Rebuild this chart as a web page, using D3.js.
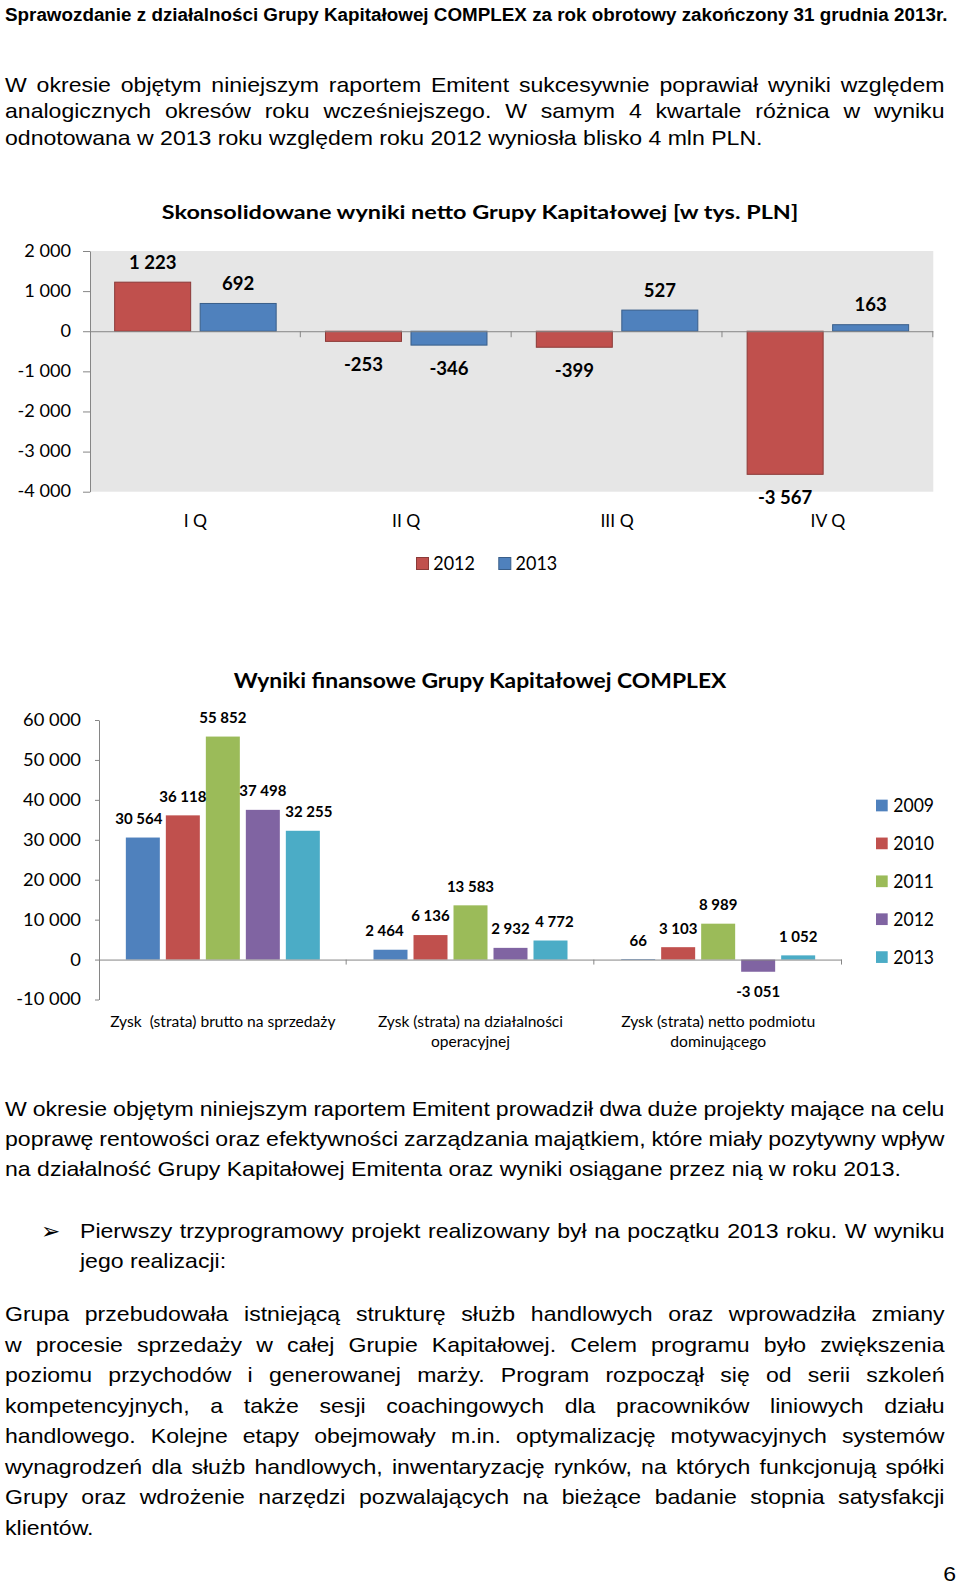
<!DOCTYPE html>
<html><head><meta charset="utf-8">
<script src="https://cdn.jsdelivr.net/npm/d3@7"></script>
<style>html,body{margin:0;padding:0;background:#fff;} svg{display:block}</style>
</head><body>
<svg id="page" width="960" height="1585"></svg>
<script>
// ---------------- DATA ----------------
const quarters = ["I Q", "II Q", "III Q", "IV Q"];
const netYears = ["2012", "2013"];
const net2012 = [1223, -253, -399, -3567];
const net2013 = [692, -346, 527, 163];
const netTicks = [2000, 1000, 0, -1000, -2000, -3000, -4000];

const finCategoryLines = [
  ["Zysk  (strata) brutto na sprzedaży"],
  ["Zysk (strata) na działalności", "operacyjnej"],
  ["Zysk (strata) netto podmiotu", "dominującego"]
];
const finYears = ["2009", "2010", "2011", "2012", "2013"];
const fin2009 = [30564, 2464, 66];
const fin2010 = [36118, 6136, 3103];
const fin2011 = [55852, 13583, 8989];
const fin2012 = [37498, 2932, -3051];
const fin2013 = [32255, 4772, 1052];
const finTicks = [60000, 50000, 40000, 30000, 20000, 10000, 0, -10000];

const netTitle = "Skonsolidowane wyniki netto Grupy Kapitałowej [w tys. PLN]";
const finTitle = "Wyniki finansowe Grupy Kapitałowej COMPLEX";

const headerText = "Sprawozdanie z działalności Grupy Kapitałowej COMPLEX za rok obrotowy zakończony 31 grudnia 2013r.";
const para1 = [
  "W okresie objętym niniejszym raportem Emitent sukcesywnie poprawiał wyniki względem",
  "analogicznych okresów roku wcześniejszego. W samym 4 kwartale różnica w wyniku",
  "odnotowana w 2013 roku względem roku 2012 wyniosła blisko 4 mln PLN."
];
const para2 = [
  "W okresie objętym niniejszym raportem Emitent prowadził dwa duże projekty mające na celu",
  "poprawę rentowości oraz efektywności zarządzania majątkiem, które miały pozytywny wpływ",
  "na działalność Grupy Kapitałowej Emitenta oraz wyniki osiągane przez nią w roku 2013."
];
const bullet1 = [
  "Pierwszy trzyprogramowy projekt realizowany był na początku 2013 roku. W wyniku",
  "jego realizacji:"
];
const para3 = [
  "Grupa przebudowała istniejącą strukturę służb handlowych oraz wprowadziła zmiany",
  "w procesie sprzedaży w całej Grupie Kapitałowej. Celem programu było zwiększenia",
  "poziomu przychodów i generowanej marży. Program rozpoczął się od serii szkoleń",
  "kompetencyjnych, a także sesji coachingowych dla pracowników liniowych działu",
  "handlowego. Kolejne etapy obejmowały m.in. optymalizację motywacyjnych systemów",
  "wynagrodzeń dla służb handlowych, inwentaryzację rynków, na których funkcjonują spółki",
  "Grupy oraz wdrożenie narzędzi pozwalających na bieżące badanie stopnia satysfakcji",
  "klientów."
];
const pageNumber = "6";

// ---------------- STYLE ----------------
const netColors = ["#C0504D", "#4F81BD"];
const finColors = ["#4F81BD", "#C0504D", "#9BBB59", "#8064A2", "#4BACC6"];
const axisColor = "#868686";
const chartFont = "Lato, 'Open Sans', sans-serif";
const bodyFont = "'Liberation Sans', Arial, sans-serif";

const svg = d3.select("#page");
const fmt = d3.formatLocale({decimal: ",", thousands: " ", grouping: [3], currency: ["", ""], minus: "-"}).format(",d");

function stretchText(sel, sx) {
  sel.each(function () {
    const t = d3.select(this);
    const x = +(t.attr("x") || 0), y = +(t.attr("y") || 0);
    t.attr("x", 0).attr("y", 0).attr("transform", `translate(${x},${y}) scale(${sx},1)`);
  });
}
function fitWidth(sel, target) {
  sel.each(function () {
    const w = this.getComputedTextLength();
    stretchText(d3.select(this), target / w);
  });
}

// ---------------- BODY TEXT ----------------
const body = svg.append("g").attr("fill", "#000");
const BODY_SIZE = 21;

function measure(str, size, weight) {
  const t = body.append("text").attr("font-family", bodyFont).attr("font-size", size)
    .attr("font-weight", weight || 400).text(str);
  const w = t.node().getComputedTextLength();
  t.remove();
  return w;
}
// horizontal glyph stretch of the page, from the natural (unjustified) last lines
const SX = ((894 / measure(para2[2], BODY_SIZE)) + (760 / measure(para1[2], BODY_SIZE))) / 2;

function drawLines(lines, x0, x1, baseline0, step) {
  lines.forEach((str, i) => {
    const t = body.append("text").attr("font-family", bodyFont).attr("font-size", BODY_SIZE)
      .attr("x", x0).attr("y", baseline0 + i * step).text(str);
    const justify = i < lines.length - 1;
    if (justify) {
      const w0 = t.node().getComputedTextLength();
      const spaces = (str.match(/ /g) || []).length;
      const ws = ((x1 - x0) / SX - w0) / spaces;
      t.attr("word-spacing", ws);
    }
    stretchText(t, SX);
  });
}

// header
body.append("text").attr("font-family", bodyFont).attr("font-weight", 700).attr("font-size", 18.5)
  .attr("x", 5).attr("y", 21).text(headerText)
  .call(fitWidth, 943);

drawLines(para1, 5, 945, 92, 26.3);
drawLines(para2, 5, 945, 1115.5, 30.3);
body.append("text").attr("font-family", "'DejaVu Sans', sans-serif").attr("font-size", 23)
  .attr("x", 41).attr("y", 1239).text("➢");
drawLines(bullet1, 80, 945, 1238, 30);
drawLines(para3, 5, 945, 1321, 30.5);
body.append("text").attr("font-family", bodyFont).attr("font-size", BODY_SIZE)
  .attr("text-anchor", "end").attr("x", 956).attr("y", 1581).text(pageNumber)
  .call(stretchText, SX);

// ---------------- CHART 1 ----------------
{
  const g = svg.append("g");
  const c = {l: 90, r: 933.3, t: 251, b: 491.7};
  const y = d3.scaleLinear().domain([-4000, 2000]).range([c.b, c.t]);
  const x = d3.scaleBand().domain(quarters).range([c.l, c.r]);
  const groupW = 162.5;
  const inner = d3.scaleBand().domain(netYears).range([0, groupW]).paddingInner(8.5 / 85.5);
  const off = (x.bandwidth() - groupW) / 2;

  g.append("rect").attr("x", c.l).attr("y", c.t).attr("width", c.r - c.l).attr("height", c.b - c.t)
    .attr("fill", "#E6E6E6");

  const series = [net2012, net2013].map((vals, k) => ({year: netYears[k], values: vals, color: netColors[k]}));
  const rows = series.flatMap(s => quarters.map((q, i) => ({q, year: s.year, v: s.values[i], color: s.color})));

  g.selectAll("rect.bar").data(rows).join("rect").attr("class", "bar")
    .attr("x", d => x(d.q) + off + inner(d.year) + 0.5)
    .attr("width", inner.bandwidth() - 1)
    .attr("y", d => y(Math.max(0, d.v)))
    .attr("height", d => Math.abs(y(d.v) - y(0)))
    .attr("fill", d => d.color)
    .attr("stroke", d => d3.color(d.color).darker(0.9))
    .attr("stroke-width", 1);

  // y axis
  const ay = g.append("g").attr("transform", `translate(${c.l},0)`)
    .call(d3.axisLeft(y).tickValues(netTicks).tickFormat(fmt).tickSize(7).tickSizeOuter(0).tickPadding(12));
  ay.select(".domain").attr("stroke", axisColor);
  ay.selectAll(".tick line").attr("stroke", axisColor);
  ay.selectAll(".tick text").attr("font-family", chartFont).attr("font-size", 16.5).attr("fill", "#000")
    .call(stretchText, 1.1);

  // x axis line at zero with boundary ticks
  g.append("line").attr("x1", c.l).attr("x2", c.r).attr("y1", y(0) + 0.5).attr("y2", y(0) + 0.5)
    .attr("stroke", axisColor);
  g.selectAll("line.xt").data(quarters).join("line").attr("class", "xt")
    .attr("x1", q => x(q) + x.bandwidth() - 0.5).attr("x2", q => x(q) + x.bandwidth() - 0.5)
    .attr("y1", y(0)).attr("y2", y(0) + 6).attr("stroke", axisColor);

  // data labels
  g.selectAll("text.lbl").data(rows).join("text").attr("class", "lbl")
    .attr("x", d => x(d.q) + off + inner(d.year) + inner.bandwidth() / 2)
    .attr("y", d => d.v >= 0 ? y(d.v) - 13.5 : y(d.v) + 29.5)
    .attr("text-anchor", "middle").attr("font-family", chartFont).attr("font-weight", 700)
    .attr("font-size", 18).attr("fill", "#000")
    .text(d => fmt(d.v))
    .call(stretchText, 1.03);

  // category labels
  g.selectAll("text.cat").data(quarters).join("text").attr("class", "cat")
    .attr("x", q => x(q) + x.bandwidth() / 2).attr("y", 526.5)
    .attr("text-anchor", "middle").attr("font-family", chartFont).attr("font-size", 17.5).attr("fill", "#000")
    .text(q => q);

  // title
  g.append("text").attr("x", 480).attr("y", 219).attr("text-anchor", "middle")
    .attr("font-family", chartFont).attr("font-weight", 700).attr("font-size", 19.5).attr("fill", "#000")
    .text(netTitle).call(fitWidth, 637);

  // legend
  const lg = g.selectAll("g.leg").data(series).join("g").attr("class", "leg")
    .attr("transform", (d, i) => `translate(${416 + i * 82.3},0)`);
  lg.append("rect").attr("x", 0.5).attr("y", 557.5).attr("width", 12).attr("height", 12)
    .attr("fill", d => d.color).attr("stroke", d => d3.color(d.color).darker(0.9));
  lg.append("text").attr("x", 17.3).attr("y", 570).attr("font-family", chartFont).attr("font-size", 18.5)
    .attr("fill", "#000").text(d => d.year).call(stretchText, 0.97);
}

// ---------------- CHART 2 ----------------
{
  const g = svg.append("g");
  const c = {l: 99, r: 842, t: 720, b: 999.5};
  const cats = finCategoryLines.map(l => l.join(" "));
  const y = d3.scaleLinear().domain([-10000, 60000]).range([c.b, c.t]);
  const x = d3.scaleBand().domain(cats).range([c.l, c.r]);
  const groupW = 194;
  const inner = d3.scaleBand().domain(finYears).range([0, groupW]).paddingInner(0.15);
  const off = (x.bandwidth() - groupW) / 2;
  const labelNudge = {"0-2009": -4, "0-2013": 6, "1-2009": -6, "1-2013": 4};

  const series = [fin2009, fin2010, fin2011, fin2012, fin2013]
    .map((vals, k) => ({year: finYears[k], values: vals, color: finColors[k]}));
  const rows = series.flatMap(s => cats.map((cat, i) => ({cat, i, year: s.year, v: s.values[i], color: s.color})));

  g.selectAll("rect.bar").data(rows).join("rect").attr("class", "bar")
    .attr("x", d => x(d.cat) + off + inner(d.year))
    .attr("width", inner.bandwidth())
    .attr("y", d => y(Math.max(0, d.v)))
    .attr("height", d => Math.max(0.6, Math.abs(y(d.v) - y(0))))
    .attr("fill", d => d.color);

  const ay = g.append("g").attr("transform", `translate(${c.l},0)`)
    .call(d3.axisLeft(y).tickValues(finTicks).tickFormat(fmt).tickSize(4).tickSizeOuter(0).tickPadding(14));
  ay.select(".domain").attr("stroke", axisColor);
  ay.selectAll(".tick line").attr("stroke", axisColor);
  ay.selectAll(".tick text").attr("font-family", chartFont).attr("font-size", 17).attr("fill", "#000")
    .call(stretchText, 1.08);

  g.append("line").attr("x1", c.l).attr("x2", c.r).attr("y1", y(0) + 0.5).attr("y2", y(0) + 0.5)
    .attr("stroke", axisColor);
  g.selectAll("line.xt").data(cats).join("line").attr("class", "xt")
    .attr("x1", d => x(d) + x.bandwidth() - 0.5).attr("x2", d => x(d) + x.bandwidth() - 0.5)
    .attr("y1", y(0)).attr("y2", y(0) + 5).attr("stroke", axisColor);

  g.selectAll("text.lbl").data(rows).join("text").attr("class", "lbl")
    .attr("x", d => x(d.cat) + off + inner(d.year) + inner.bandwidth() / 2 + (labelNudge[d.i + "-" + d.year] || 0))
    .attr("y", d => d.v >= 0 ? y(d.v) - 13.6 : y(d.v) + 25.4)
    .attr("text-anchor", "middle").attr("font-family", chartFont).attr("font-weight", 700)
    .attr("font-size", 15).attr("fill", "#000")
    .text(d => fmt(d.v));

  // category labels (wrapped)
  const catWidths = [[225.6], [185.3, 79], [194.3, 96]];
  finCategoryLines.forEach((lines, i) => {
    lines.forEach((ln, j) => {
      g.append("text").attr("x", x(cats[i]) + x.bandwidth() / 2).attr("y", 1026.7 + j * 20)
        .attr("text-anchor", "middle").attr("font-family", chartFont).attr("font-size", 15.5)
        .attr("xml:space", "preserve").style("white-space", "pre")
        .attr("fill", "#000").text(ln).call(fitWidth, catWidths[i][j]);
    });
  });

  g.append("text").attr("x", 480).attr("y", 688).attr("text-anchor", "middle")
    .attr("font-family", chartFont).attr("font-weight", 700).attr("font-size", 21.5).attr("fill", "#000")
    .text(finTitle).call(fitWidth, 493);

  const lg = g.selectAll("g.leg").data(series).join("g").attr("class", "leg")
    .attr("transform", (d, i) => `translate(876,${805.5 + i * 37.9})`);
  lg.append("rect").attr("x", 0).attr("y", -5.85).attr("width", 11.7).attr("height", 11.7)
    .attr("fill", d => d.color);
  lg.append("text").attr("x", 17.3).attr("y", 6.6).attr("font-family", chartFont).attr("font-size", 18.5)
    .attr("fill", "#000").text(d => d.year).call(stretchText, 0.95);
}
</script>
</body></html>
